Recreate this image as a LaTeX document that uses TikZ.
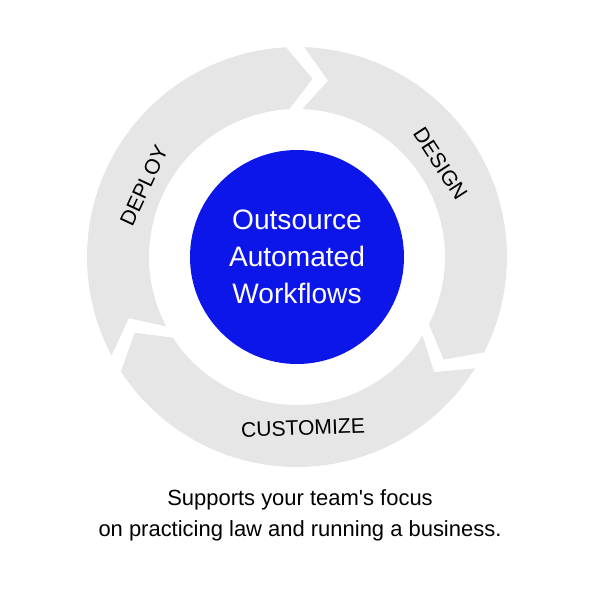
\documentclass[tikz,border=0pt]{standalone}
\usepackage{fontspec}
\setmainfont{Liberation Sans}
\definecolor{ringgray}{RGB}{230,230,230}
\definecolor{coreblue}{RGB}{12,22,232}
\tikzstyle{segment} = [fill=ringgray, draw=none]
\tikzstyle{steplabel} = [font=\fontsize{12}{14}\selectfont, text=black]
\newcommand{\ringseg}[2]{% start angle, end angle (clockwise)
  \fill [segment] (#1:4.2) arc[start angle=#1, end angle=#2, radius=4.2]
    -- ({#2-8}:3.58) -- (#2:2.96) arc[start angle=#2, end angle=#1, radius=2.96]
    -- ({#1-8}:3.58) -- cycle;}
\begin{document}
\begin{tikzpicture}
        \useasboundingbox (-5.94,-6.86) rectangle (6.06,5.14);

        % ring segments
        \ringseg{88}{-27}
        \ringseg{-32}{-147}
        \ringseg{208}{93}

        \node (core) [circle, fill=coreblue, minimum size=4.28cm, text=white, align=center,
              font=\fontsize{16}{21}\selectfont] {Outsource\\Automated\\Workflows};

        \node (design) [steplabel, rotate=-57] at (33:3.42) {DESIGN};
        \node (customize) [steplabel, rotate=2] at (-88:3.42) {CUSTOMIZE};
        \node (deploy) [steplabel, rotate=65] at (155:3.38) {DEPLOY};

        \node (caption) [align=center, font=\fontsize{12.5}{17.5}\selectfont] at (0.06,-5.17)
              {Supports your team\textquotesingle s focus\\on practicing law and running a business.};

\end{tikzpicture}
\end{document}
